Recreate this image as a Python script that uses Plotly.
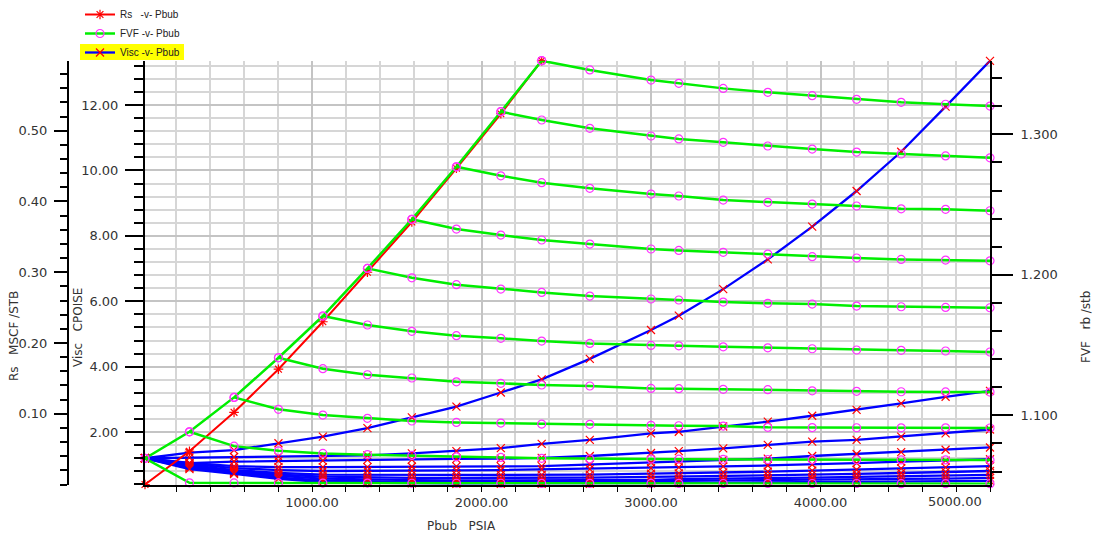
import plotly.graph_objects as go

# ---------------- data ----------------
pressure = [14.7, 277, 540, 802, 1064, 1327, 1589, 1852, 2114, 2355,
            2639, 3000, 3164, 3426, 3689, 3951, 4213, 4476, 4738, 5000]

rs_sat = [0.0, 0.047, 0.102, 0.163, 0.230, 0.300, 0.371, 0.447, 0.524, 0.599]

fvf_sat = [1.0694, 1.0883, 1.1128, 1.1410, 1.1707, 1.2046, 1.2395, 1.2769, 1.3161, 1.3524]

fvf_pb0 = [1.0694, 1.0520, 1.0519, 1.0519, 1.0518, 1.0518, 1.0517, 1.0517, 1.0517, 1.0516,
           1.0516, 1.0516, 1.0516, 1.0515, 1.0515, 1.0515, 1.0515, 1.0514, 1.0514, 1.0514]
fvf_pb1 = [1.0883, 1.0781, 1.0748, 1.0729, 1.0720, 1.0715, 1.0705, 1.0701, 1.0694, 1.0690,
           1.0689, 1.0688, 1.0687, 1.0686, 1.0685, 1.0684, 1.0683, 1.0683, 1.0682]
fvf_pb2 = [1.1128, 1.1043, 1.1002, 1.0979, 1.0960, 1.0950, 1.0945, 1.0938, 1.0936, 1.0929,
           1.0926, 1.0924, 1.0915, 1.0913, 1.0912, 1.0911, 1.0911, 1.0910]
fvf_pb3 = [1.1410, 1.1332, 1.1289, 1.1266, 1.1239, 1.1228, 1.1216, 1.1209, 1.1192, 1.1190,
           1.1185, 1.1183, 1.1175, 1.1171, 1.1168, 1.1167, 1.1166]
fvf_pb4 = [1.1707, 1.1643, 1.1598, 1.1567, 1.1548, 1.1529, 1.1512, 1.1498, 1.1495, 1.1488,
           1.1481, 1.1474, 1.1465, 1.1463, 1.1458, 1.1451]
fvf_pb5 = [1.2046, 1.1979, 1.1930, 1.1899, 1.1875, 1.1849, 1.1828, 1.1821, 1.1806, 1.1797,
           1.1792, 1.1778, 1.1773, 1.1768, 1.1766]
fvf_pb6 = [1.2395, 1.2326, 1.2283, 1.2248, 1.2219, 1.2184, 1.2174, 1.2160, 1.2148, 1.2129,
           1.2120, 1.2110, 1.2105, 1.2100]
fvf_pb7 = [1.2769, 1.2705, 1.2656, 1.2616, 1.2575, 1.2561, 1.2532, 1.2516, 1.2504, 1.2490,
           1.2470, 1.2466, 1.2456]
fvf_pb8 = [1.3161, 1.3102, 1.3043, 1.2988, 1.2967, 1.2943, 1.2917, 1.2895, 1.2874, 1.2860,
           1.2846, 1.2833]
fvf_pb9 = [1.3524, 1.3458, 1.3386, 1.3363, 1.3327, 1.3299, 1.3275, 1.3249, 1.3228, 1.3214, 1.3201]

visc_l0 = [1.20, 1.37, 1.45, 1.66, 1.86, 2.12, 2.45, 2.78, 3.21, 3.61, 4.24, 5.12, 5.56, 6.37, 7.28, 8.28, 9.37, 10.57, 11.95, 13.35]
visc_l1 = [1.20, 1.22, 1.24, 1.25, 1.27, 1.29, 1.35, 1.42, 1.51, 1.64, 1.76, 1.96, 2.01, 2.17, 2.32, 2.50, 2.68, 2.88, 3.08, 3.26]
visc_l2 = [1.20, 1.05, 1.10, 1.12, 1.13, 1.15, 1.16, 1.18, 1.19, 1.21, 1.27, 1.36, 1.42, 1.50, 1.61, 1.71, 1.76, 1.86, 1.96, 2.08]
visc_l3 = [1.20, 1.06, 0.96, 0.93, 0.93, 0.93, 0.94, 0.95, 0.95, 0.96, 1.01, 1.07, 1.10, 1.15, 1.19, 1.27, 1.33, 1.39, 1.46, 1.53]
visc_l4 = [1.20, 1.03, 0.90, 0.84, 0.81, 0.81, 0.82, 0.83, 0.84, 0.86, 0.87, 0.90, 0.92, 0.95, 0.98, 1.01, 1.05, 1.10, 1.13, 1.17]
visc_l5 = [1.20, 0.99, 0.84, 0.75, 0.70, 0.69, 0.69, 0.69, 0.69, 0.69, 0.70, 0.73, 0.74, 0.77, 0.79, 0.82, 0.85, 0.89, 0.92, 0.96]
visc_l6 = [1.20, 0.96, 0.81, 0.70, 0.64, 0.61, 0.60, 0.60, 0.60, 0.60, 0.61, 0.63, 0.64, 0.66, 0.68, 0.70, 0.72, 0.75, 0.78, 0.81]
visc_l7 = [1.20, 0.93, 0.78, 0.66, 0.58, 0.55, 0.53, 0.52, 0.52, 0.52, 0.53, 0.54, 0.56, 0.57, 0.59, 0.61, 0.63, 0.65, 0.67, 0.69]
visc_l8 = [1.20, 0.90, 0.75, 0.61, 0.52, 0.49, 0.47, 0.47, 0.47, 0.47, 0.48, 0.50, 0.51, 0.52, 0.54, 0.55, 0.56, 0.57, 0.58, 0.60]
visc_l9 = [1.20, 0.87, 0.72, 0.57, 0.47, 0.44, 0.43, 0.42, 0.42, 0.42, 0.42, 0.43, 0.44, 0.45, 0.46, 0.47, 0.48, 0.49, 0.50, 0.51]

x_ticks = [1000, 2000, 3000, 4000]
x_ticktext = ["1000.00", "2000.00", "3000.00", "4000.00"]
visc_ticks = [2, 4, 6, 8, 10, 12]
visc_ticktext = ["2.00", "4.00", "6.00", "8.00", "10.00", "12.00"]
rs_ticks = [0.1, 0.2, 0.3, 0.4, 0.5]
rs_ticktext = ["0.10", "0.20", "0.30", "0.40", "0.50"]
fvf_ticks = [1.1, 1.2, 1.3]
fvf_ticktext = ["1.100", "1.200", "1.300"]

# ---------------- figure ----------------
W, H = 1097, 535
RED, GREEN, BLUE, MAG = "#ff0000", "#00ee00", "#0000ff", "#ff33ff"
FONT = "DejaVu Sans"
TXT = "#333333"

fig = go.Figure()

fig.add_trace(go.Scatter(
    x=pressure[:len(rs_sat)], y=rs_sat, yaxis="y2", mode="lines+markers",
    name="Rs   -v- Pbub", line=dict(color=RED, width=2),
    marker=dict(symbol="asterisk-open", size=8, color=RED, line=dict(color=RED, width=1.2)),
    cliponaxis=False))

fvf_branches = [fvf_pb0, fvf_pb1, fvf_pb2, fvf_pb3, fvf_pb4,
                fvf_pb5, fvf_pb6, fvf_pb7, fvf_pb8, fvf_pb9]
fvf_marker = dict(symbol="circle-open", size=8, color=MAG, line=dict(color=MAG, width=1.2))
fig.add_trace(go.Scatter(
    x=pressure[:len(fvf_sat)], y=fvf_sat, yaxis="y3", mode="lines+markers",
    name="FVF -v- Pbub", legendgroup="fvf", line=dict(color=GREEN, width=2.5),
    marker=fvf_marker, cliponaxis=False))
for i, br in enumerate(fvf_branches):
    fig.add_trace(go.Scatter(
        x=pressure[i:], y=br, yaxis="y3", mode="lines+markers",
        legendgroup="fvf", showlegend=False, line=dict(color=GREEN, width=2.5),
        marker=fvf_marker, cliponaxis=False))

visc_lines = [visc_l0, visc_l1, visc_l2, visc_l3, visc_l4,
              visc_l5, visc_l6, visc_l7, visc_l8, visc_l9]
visc_marker = dict(symbol="x-thin-open", size=8, color=RED, line=dict(color=RED, width=1.2))
for i, vl in enumerate(visc_lines):
    fig.add_trace(go.Scatter(
        x=pressure, y=vl, yaxis="y", mode="lines+markers",
        name="Visc -v- Pbub", legendgroup="visc", showlegend=(i == 0),
        line=dict(color=BLUE, width=2.3), marker=visc_marker, cliponaxis=False))

x0p, x1p = 145 / W, 990 / W
y_bot, y_top = 1 - 484.5 / H, 1 - 60.7 / H

fig.update_layout(
    width=W, height=H, margin=dict(l=0, r=0, t=0, b=0),
    plot_bgcolor="white", paper_bgcolor="white",
    font=dict(family=FONT, size=13, color=TXT),
    showlegend=True,
    legend=dict(x=80 / W, y=1.0, xanchor="left", yanchor="top",
                font=dict(family="Liberation Sans", size=10, color="#222222"),
                bgcolor="rgba(0,0,0,0)", itemwidth=30, tracegroupgap=0),
    xaxis=dict(domain=[x0p, x1p], range=[14.7, 5000], anchor="y",
               showline=True, linecolor="black", linewidth=2, zeroline=False,
               ticks="outside", ticklen=5, tickwidth=1, tickcolor="black",
               tickmode="array", tickvals=x_ticks, ticktext=x_ticktext,
               tickfont=dict(family=FONT, size=13, color=TXT),
               showgrid=True, gridcolor="#c4c4c4", gridwidth=2,
               minor=dict(tickmode="linear", tick0=0, dtick=200, ticks="outside", ticklen=5,
                          tickcolor="black", showgrid=True, gridcolor="#d6d6d6", gridwidth=1.5),
               automargin=False),
    yaxis=dict(domain=[y_bot, y_top], range=[0.398, 13.354], anchor="x", side="left",
               showline=True, linecolor="black", linewidth=2, zeroline=False,
               ticks="outside", ticklen=18, tickwidth=2, tickcolor="black",
               tickmode="array", tickvals=visc_ticks, ticktext=visc_ticktext,
               tickfont=dict(family=FONT, size=13, color=TXT), ticklabelstandoff=4,
               showgrid=True, gridcolor="#c4c4c4", gridwidth=2,
               minor=dict(tickmode="linear", tick0=0, dtick=0.4, ticks="outside", ticklen=9,
                          tickcolor="black", tickwidth=1.5, showgrid=True, gridcolor="#d6d6d6", gridwidth=1.5),
               automargin=False),
    yaxis2=dict(overlaying="y", anchor="free", position=68 / W, side="left",
                range=[0, 0.599], showline=True, linecolor="black", linewidth=2, zeroline=False,
                ticks="outside", ticklen=13, tickwidth=2, tickcolor="black",
                tickmode="array", tickvals=rs_ticks, ticktext=rs_ticktext,
                tickfont=dict(family=FONT, size=13, color=TXT), ticklabelstandoff=4,
                showgrid=False,
                minor=dict(tickmode="linear", tick0=0, dtick=0.02, ticks="outside", ticklen=7,
                           tickcolor="black", tickwidth=1.5, showgrid=False),
                automargin=False),
    yaxis3=dict(overlaying="y", anchor="x", side="right",
                range=[1.0508, 1.3524], showline=True, linecolor="black", linewidth=2, zeroline=False,
                ticks="outside", ticklen=21, tickwidth=2, tickcolor="black",
                tickmode="array", tickvals=fvf_ticks, ticktext=fvf_ticktext,
                tickfont=dict(family=FONT, size=13, color=TXT), ticklabelstandoff=5,
                showgrid=False,
                minor=dict(tickmode="linear", tick0=1.0, dtick=0.02, ticks="outside", ticklen=10,
                           tickcolor="black", tickwidth=1.5, showgrid=False),
                automargin=False),
)

ann_font = dict(family=FONT, size=12, color=TXT)
fig.add_annotation(text="Rs   MSCF /STB", xref="paper", yref="paper", x=14 / W, y=1 - 336 / H,
                   textangle=-90, showarrow=False, font=ann_font, xanchor="center", yanchor="middle")
fig.add_annotation(text="Visc   CPOISE", xref="paper", yref="paper", x=78 / W, y=1 - 328 / H,
                   textangle=-90, showarrow=False, font=ann_font, xanchor="center", yanchor="middle")
fig.add_annotation(text="FVF   rb /stb", xref="paper", yref="paper", x=1086 / W, y=1 - 327 / H,
                   textangle=-90, showarrow=False, font=ann_font, xanchor="center", yanchor="middle")
fig.add_annotation(text="Pbub   PSIA", xref="paper", yref="paper", x=461 / W, y=1 - 526 / H,
                   showarrow=False, font=ann_font, xanchor="center", yanchor="middle")
fig.add_annotation(text="5000.00", xref="x", yref="paper", x=5000, y=1 - 501 / H,
                   xshift=-6, showarrow=False, font=dict(family=FONT, size=13, color=TXT),
                   xanchor="right", yanchor="middle")

# yellow highlight behind the selected legend entry
fig.add_shape(type="rect", xref="paper", yref="paper",
              x0=80 / W, x1=184 / W, y0=1 - 60 / H, y1=1 - 44 / H,
              fillcolor="#ffff00", line=dict(width=0), layer="below")

fig.write_html("out.html")
